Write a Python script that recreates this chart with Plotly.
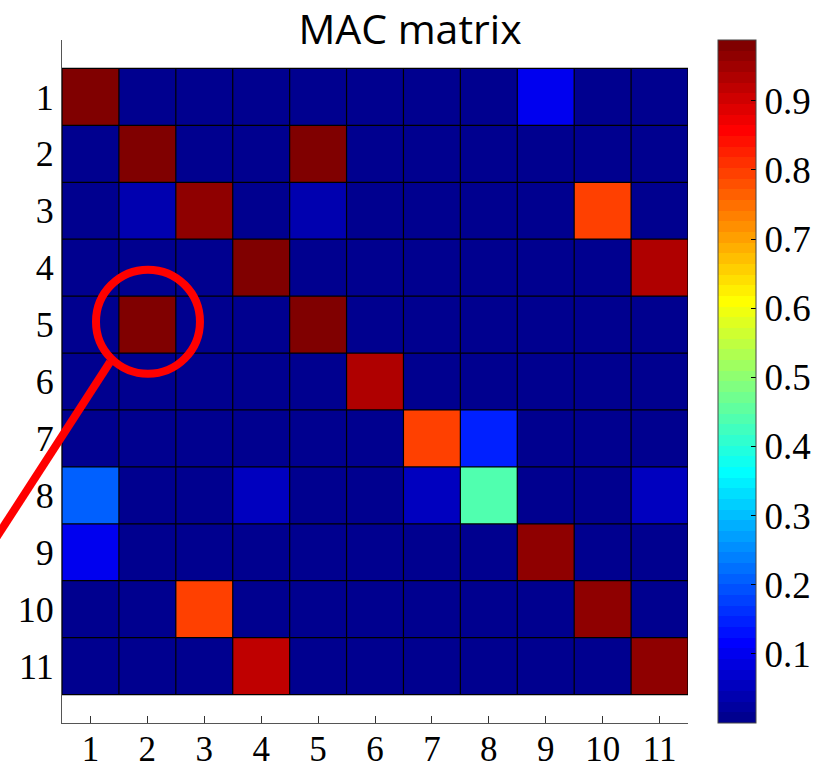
import plotly.graph_objects as go

# ---------------- data ----------------
modes = [str(i) for i in range(1, 12)]
mode_idx = list(range(1, 12))

row_1 = [0.982, 0.006, 0.004, 0.003, 0.008, 0.002, 0.005, 0.004, 0.100, 0.003, 0.006]
row_2 = [0.005, 0.981, 0.007, 0.004, 0.979, 0.003, 0.002, 0.006, 0.004, 0.005, 0.003]
row_3 = [0.004, 0.040, 0.965, 0.006, 0.041, 0.003, 0.005, 0.002, 0.004, 0.795, 0.007]
row_4 = [0.003, 0.008, 0.005, 0.980, 0.004, 0.006, 0.003, 0.005, 0.002, 0.004, 0.932]
row_5 = [0.006, 0.979, 0.004, 0.005, 0.981, 0.002, 0.004, 0.003, 0.005, 0.006, 0.004]
row_6 = [0.004, 0.003, 0.006, 0.002, 0.005, 0.934, 0.007, 0.004, 0.003, 0.005, 0.006]
row_7 = [0.005, 0.004, 0.003, 0.006, 0.002, 0.005, 0.795, 0.147, 0.004, 0.003, 0.005]
row_8 = [0.208, 0.006, 0.004, 0.055, 0.003, 0.005, 0.050, 0.440, 0.006, 0.004, 0.055]
row_9 = [0.100, 0.005, 0.003, 0.004, 0.006, 0.002, 0.005, 0.003, 0.965, 0.006, 0.004]
row_10 = [0.003, 0.006, 0.795, 0.004, 0.005, 0.003, 0.002, 0.006, 0.004, 0.963, 0.005]
row_11 = [0.006, 0.004, 0.005, 0.920, 0.003, 0.006, 0.004, 0.005, 0.003, 0.004, 0.966]
mac = [row_1, row_2, row_3, row_4, row_5, row_6, row_7, row_8, row_9, row_10, row_11]

cbar_ticks = [0.1, 0.2, 0.3, 0.4, 0.5, 0.6, 0.7, 0.8, 0.9]
cbar_labels = ["0.1", "0.2", "0.3", "0.4", "0.5", "0.6", "0.7", "0.8", "0.9"]
zmin, zmax = 0.0, 0.988

# ---------------- MATLAB jet(64) discrete colorscale ----------------
def clip(v):
    return max(0.0, min(1.0, v))

def jet64(k):  # k = 1..64
    if k <= 24:
        r = 0.0
    elif k <= 40:
        r = (k - 24) / 16
    elif k <= 56:
        r = 1.0
    else:
        r = 1 - (k - 56) / 16
    if k <= 8:
        g = 0.0
    elif k <= 24:
        g = (k - 8) / 16
    elif k <= 40:
        g = 1.0
    elif k <= 56:
        g = 1 - (k - 40) / 16
    else:
        g = 0.0
    if k <= 8:
        b = (k + 8) / 16
    elif k <= 24:
        b = 1.0
    elif k <= 40:
        b = 1 - (k - 24) / 16
    else:
        b = 0.0
    return "rgb(%d,%d,%d)" % (round(clip(r) * 255), round(clip(g) * 255), round(clip(b) * 255))

colorscale = []
for k in range(64):
    c = jet64(k + 1)
    colorscale.append([k / 64, c])
    colorscale.append([(k + 1) / 64, c])

serif = "Liberation Serif"

fig = go.Figure()
fig.add_trace(go.Heatmap(
    z=mac, x=mode_idx, y=mode_idx,
    zmin=zmin, zmax=zmax,
    colorscale=colorscale,
    hoverinfo="skip",
    colorbar=dict(
        x=(718 - 62) / 626, xanchor="left", xpad=0,
        y=0.5, yanchor="middle", len=1.0, lenmode="fraction", ypad=0,
        thickness=38, thicknessmode="pixels",
        outlinewidth=1, outlinecolor="#444",
        tickvals=cbar_ticks, ticktext=cbar_labels,
        ticks="inside", ticklen=5, tickcolor="#000", tickwidth=1,
        tickfont=dict(family=serif, size=37, color="#000"),
    ),
))

n = len(mode_idx)
shapes = []
for k in range(n + 1):
    p = k + 0.5
    shapes.append(dict(type="line", xref="x", yref="y", x0=p, x1=p, y0=0.5, y1=n + 0.5,
                       line=dict(color="#000", width=1.2), layer="above"))
    shapes.append(dict(type="line", xref="x", yref="y", x0=0.5, x1=n + 0.5, y0=p, y1=p,
                       line=dict(color="#000", width=1.2), layer="above"))

# red highlight circle and pointer line (paper coordinates)
shapes.append(dict(type="circle", xref="paper", yref="paper",
                   x0=0.0543, x1=0.2204, y0=0.5114, y1=0.6637,
                   line=dict(color="#ff0000", width=8), layer="above"))
shapes.append(dict(type="line", xref="paper", yref="paper",
                   x0=0.0767, y0=0.5286, x1=-0.12, y1=0.25,
                   line=dict(color="#ff0000", width=8), layer="above"))

fig.update_layout(
    width=820, height=768,
    margin=dict(l=62, r=132, t=40, b=45, autoexpand=False),
    paper_bgcolor="white", plot_bgcolor="white",
    title=dict(text="MAC matrix", x=0.5, xref="container", xanchor="center",
               y=1 - 30 / 768, yref="container", yanchor="middle",
               font=dict(family="Open Sans", size=41, color="#000")),
    xaxis=dict(range=[0.5, n + 0.5], tickvals=mode_idx, ticktext=modes,
               ticks="inside", ticklen=7, tickcolor="#333",
               showline=True, linecolor="#555", linewidth=1.2,
               showgrid=False, zeroline=False, automargin=False,
               ticklabelstandoff=-5,
               tickfont=dict(family=serif, size=35, color="#000")),
    yaxis=dict(range=[12, 0], tickvals=mode_idx, ticktext=modes,
               ticks="", showline=True, linecolor="#555", linewidth=1.2,
               showgrid=False, zeroline=False, automargin=False,
               tickfont=dict(family=serif, size=36, color="#000")),
    shapes=shapes,
    showlegend=False,
)

fig.write_html("out.html")
